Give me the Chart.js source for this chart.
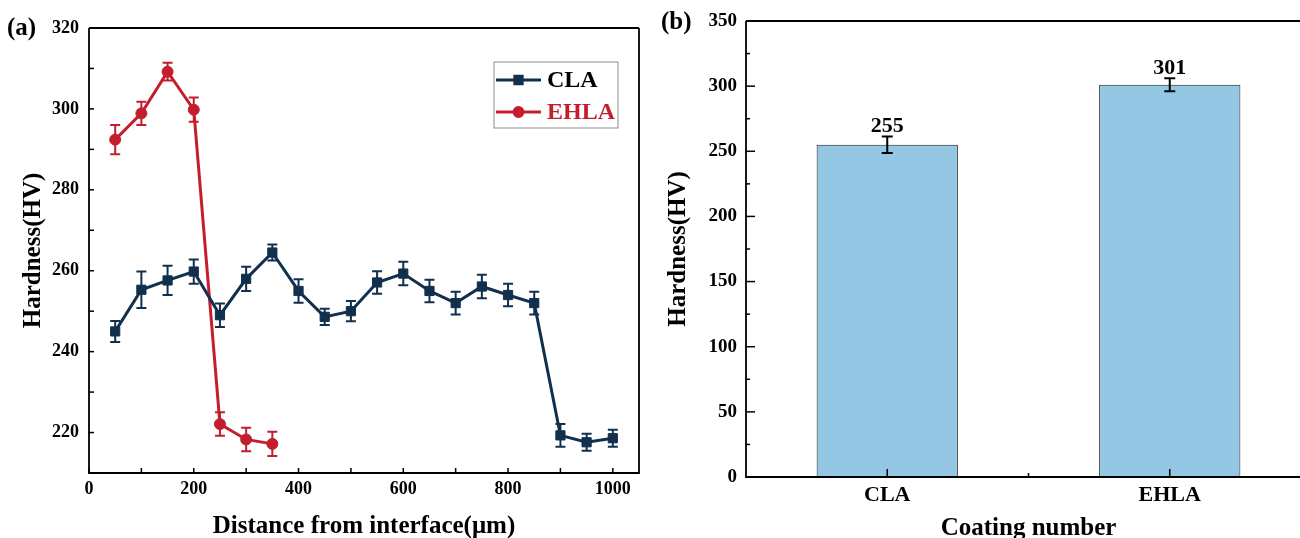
<!DOCTYPE html>
<html>
<head>
<meta charset="utf-8">
<script src="https://cdn.jsdelivr.net/npm/chart.js@4.4.1/dist/chart.umd.min.js"></script>
<style>
    html, body { margin: 0; padding: 0; background: #fff; }
    body { position: relative; width: 1300px; height: 538px; overflow: hidden; }
    canvas { position: absolute; top: 0; }
    #chartA { left: 0; }
    #chartB { left: 660px; }
    .tag { position: absolute; font: bold 25px 'Liberation Serif', 'Times New Roman', serif; line-height: 25px; color: #000; }
</style>
</head>
<body>
<canvas id="chartA" width="660" height="538"></canvas>
<canvas id="chartB" width="660" height="538"></canvas>
<div class="tag" style="left:7px; top:14px">(a)</div>
<div class="tag" style="left:661px; top:8px">(b)</div>
<script>
'use strict';

// (a) hardness profile, distance from interface in um
const claDistance = [50, 100, 150, 200, 250, 300, 350, 400, 450, 500, 550, 600, 650, 700, 750, 800, 850, 900, 950, 1000];
const claHardness = [245, 255.3, 257.6, 259.8, 249, 258, 264.5, 255, 248.6, 250, 257.1, 259.3, 255, 252, 256.1, 254, 252, 219.3, 217.6, 218.6];
const claError = [2.6, 4.5, 3.6, 3, 2.9, 3, 2, 2.9, 2, 2.5, 2.8, 2.9, 2.8, 2.8, 2.9, 2.8, 2.8, 2.8, 2.1, 2.1];

const ehlaDistance = [50, 100, 150, 200, 250, 300, 350];
const ehlaHardness = [292.4, 298.9, 309.2, 299.8, 222.1, 218.3, 217.2];
const ehlaError = [3.6, 2.9, 2.2, 3, 2.9, 2.9, 3];

// (b) average hardness per coating
const coatings = ['CLA', 'EHLA'];
const avgHardness = [255, 301];
const avgError = [6.4, 5];

const SERIF = "'Liberation Serif', 'Times New Roman', serif";
const NAVY = '#11304e';
const RED = '#c41e2e';

Chart.defaults.font.family = SERIF;
Chart.defaults.font.weight = 'bold';
Chart.defaults.color = '#000';

// axis box: left + bottom always, top/right when asked
const frame = {
    id: 'frame',
    afterDraw(chart, args, opts) {
        const {ctx, chartArea: a} = chart;
        ctx.save();
        ctx.strokeStyle = '#000';
        ctx.lineWidth = opts.width;
        ctx.beginPath();
        ctx.moveTo(a.left, a.top);
        ctx.lineTo(a.left, a.bottom);
        ctx.lineTo(a.right, a.bottom);
        if (opts.right) {
            ctx.lineTo(a.right, a.top);
        }
        if (opts.top) {
            ctx.moveTo(a.right, a.top);
            ctx.lineTo(a.left, a.top);
        }
        ctx.stroke();
        ctx.restore();
    }
};

// tick marks pointing into the plot, with a minor tick between majors
const inwardTicks = {
    id: 'inwardTicks',
    afterDraw(chart, args, opts) {
        const {ctx, chartArea: a, scales} = chart;
        ctx.save();
        ctx.strokeStyle = '#000';
        ctx.lineWidth = opts.width;
        ['x', 'y'].forEach(id => {
            const s = scales[id];
            const vals = s.ticks.map(t => t.value);
            const step = vals[1] - vals[0];
            const minors = [vals[0] - step / 2].concat(vals.map(v => v + step / 2));
            const draw = (v, len) => {
                const p = s.getPixelForValue(v);
                ctx.beginPath();
                if (id === 'x') {
                    ctx.moveTo(p, a.bottom);
                    ctx.lineTo(p, a.bottom - len);
                } else {
                    ctx.moveTo(a.left, p);
                    ctx.lineTo(a.left + len, p);
                }
                ctx.stroke();
            };
            vals.forEach(v => draw(v, opts[id].major));
            minors.filter(v => v >= s.min && v <= s.max).forEach(v => draw(v, opts[id].minor));
        });
        ctx.restore();
    }
};

const errorBars = {
    id: 'errorBars',
    afterDatasetsDraw(chart, args, opts) {
        const {ctx} = chart;
        const ys = chart.scales.y;
        chart.data.datasets.forEach((ds, i) => {
            if (!ds.errors) {
                return;
            }
            const meta = chart.getDatasetMeta(i);
            ctx.save();
            ctx.strokeStyle = opts.color || ds.borderColor;
            ctx.lineWidth = opts.width;
            meta.data.forEach((el, j) => {
                const raw = ds.data[j];
                const v = typeof raw === 'object' ? raw.y : raw;
                const top = ys.getPixelForValue(v + ds.errors[j]);
                const bot = ys.getPixelForValue(v - ds.errors[j]);
                const c = opts.cap / 2;
                ctx.beginPath();
                ctx.moveTo(el.x, top);
                ctx.lineTo(el.x, bot);
                ctx.moveTo(el.x - c, top);
                ctx.lineTo(el.x + c, top);
                ctx.moveTo(el.x - c, bot);
                ctx.lineTo(el.x + c, bot);
                ctx.stroke();
            });
            ctx.restore();
        });
    }
};

// numbers written over the bars
const barValues = {
    id: 'barValues',
    afterDatasetsDraw(chart) {
        const {ctx} = chart;
        const ys = chart.scales.y;
        const ds = chart.data.datasets[0];
        const meta = chart.getDatasetMeta(0);
        ctx.save();
        ctx.font = 'bold 22px ' + SERIF;
        ctx.fillStyle = '#000';
        ctx.textAlign = 'center';
        ctx.textBaseline = 'alphabetic';
        meta.data.forEach((el, j) => {
            const top = ys.getPixelForValue(ds.data[j] + ds.errors[j]);
            ctx.fillText(String(ds.data[j]), el.x, top - 4);
        });
        ctx.restore();
    }
};

// boxed legend with line + marker samples
const boxLegend = {
    id: 'boxLegend',
    afterDraw(chart, args, opts) {
        const {ctx, chartArea: a} = chart;
        const x0 = a.right - opts.right - opts.width;
        const y0 = a.top + opts.top;
        ctx.save();
        ctx.fillStyle = '#fff';
        ctx.fillRect(x0, y0, opts.width, opts.height);
        ctx.strokeStyle = '#8c8c8c';
        ctx.lineWidth = 1;
        ctx.strokeRect(x0, y0, opts.width, opts.height);
        ctx.font = 'bold 24px ' + SERIF;
        ctx.textBaseline = 'middle';
        chart.data.datasets.forEach((ds, i) => {
            const cy = y0 + opts.rowStart + i * opts.rowGap;
            ctx.strokeStyle = ds.borderColor;
            ctx.fillStyle = ds.backgroundColor;
            ctx.lineWidth = ds.borderWidth;
            ctx.beginPath();
            ctx.moveTo(x0 + 2, cy);
            ctx.lineTo(x0 + 2 + opts.sample, cy);
            ctx.stroke();
            Chart.helpers.drawPoint(ctx, {
                pointStyle: ds.pointStyle,
                radius: ds.pointRadius * 0.8,
                borderWidth: 1,
                rotation: 0
            }, x0 + 2 + opts.sample / 2, cy);
            ctx.fillStyle = opts.textColors[i];
            ctx.fillText(ds.label, x0 + opts.textX, cy + 1);
        });
        ctx.restore();
    }
};

new Chart(document.getElementById('chartA'), {
    type: 'line',
    data: {
        datasets: [{
            label: 'CLA',
            data: claDistance.map((d, i) => ({x: d, y: claHardness[i]})),
            errors: claError,
            borderColor: NAVY,
            backgroundColor: NAVY,
            borderWidth: 3,
            pointStyle: 'rect',
            pointRadius: 6.5,
            pointBorderWidth: 1,
            tension: 0,
        }, {
            label: 'EHLA',
            data: ehlaDistance.map((d, i) => ({x: d, y: ehlaHardness[i]})),
            errors: ehlaError,
            borderColor: RED,
            backgroundColor: RED,
            borderWidth: 3,
            pointStyle: 'circle',
            pointRadius: 5.5,
            pointBorderWidth: 1,
            tension: 0,
        }]
    },
    options: {
        responsive: false,
        animation: false,
        layout: {padding: {top: 28, right: 21, left: 0, bottom: 0}},
        scales: {
            x: {
                type: 'linear',
                min: 0,
                max: 1050,
                ticks: {stepSize: 200, includeBounds: false, font: {size: 18}, padding: 6, maxRotation: 0,
                    callback: v => String(v)},
                grid: {display: false, drawTicks: false},
                border: {display: false},
                title: {display: true, text: 'Distance from interface(μm)', font: {size: 25, lineHeight: 1},
                    padding: {top: 0, bottom: -1}},
                afterFit(s) { s.height = 65; },
            },
            y: {
                min: 210,
                max: 320,
                ticks: {stepSize: 20, includeBounds: false, font: {size: 18}, padding: 10,
                    callback: v => String(v)},
                grid: {display: false, drawTicks: false},
                border: {display: false},
                title: {display: true, text: 'Hardness(HV)', font: {size: 25, lineHeight: 1},
                    padding: {top: 21, bottom: 0}},
                afterFit(s) { s.width = 89; },
            },
        },
        plugins: {
            legend: {display: false},
            tooltip: {enabled: false},
            frame: {width: 1.8, top: true, right: true},
            inwardTicks: {width: 1.5, x: {major: 5, minor: 5}, y: {major: 5, minor: 5}},
            errorBars: {width: 2, cap: 10},
            boxLegend: {right: 21, top: 34, width: 124, height: 66, rowStart: 18, rowGap: 32,
                sample: 45, textX: 53, textColors: ['#000', RED]},
        },
    },
    plugins: [errorBars, frame, inwardTicks, boxLegend],
});

new Chart(document.getElementById('chartB'), {
    type: 'bar',
    data: {
        labels: coatings,
        datasets: [{
            data: avgHardness,
            errors: avgError,
            backgroundColor: '#93c7e3',
            borderColor: '#222',
            borderWidth: 1,
            barPercentage: 0.5,
            categoryPercentage: 1,
        }]
    },
    options: {
        responsive: false,
        animation: false,
        layout: {padding: {top: 21, right: 9, left: 0, bottom: 0}},
        scales: {
            x: {
                ticks: {font: {size: 22}, padding: 5},
                grid: {display: false, drawTicks: false},
                border: {display: false},
                title: {display: true, text: 'Coating number', font: {size: 25, lineHeight: 1},
                    padding: {top: 0, bottom: -3}},
                afterFit(s) { s.height = 61; },
            },
            y: {
                min: 0,
                max: 350,
                ticks: {stepSize: 50, font: {size: 19}, padding: 9, callback: v => String(v)},
                grid: {display: false, drawTicks: false},
                border: {display: false},
                title: {display: true, text: 'Hardness(HV)', font: {size: 25, lineHeight: 1},
                    padding: {top: 6, bottom: 0}},
                afterFit(s) { s.width = 86; },
            },
        },
        plugins: {
            legend: {display: false},
            tooltip: {enabled: false},
            frame: {width: 1.8, top: true, right: false},
            inwardTicks: {width: 1.5, x: {major: 8, minor: 4}, y: {major: 9, minor: 4}},
            errorBars: {width: 2, cap: 11, color: '#000'},
        },
    },
    plugins: [errorBars, barValues, frame, inwardTicks],
});
</script>
</body>
</html>
